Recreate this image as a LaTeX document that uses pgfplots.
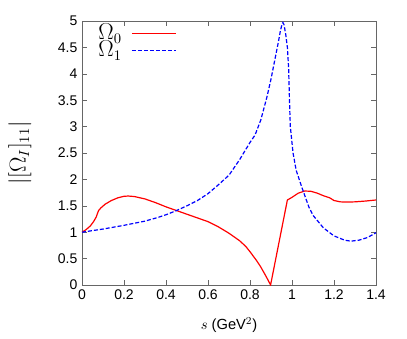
\documentclass[border=0pt]{standalone}
\usepackage{fontspec}
\setmainfont{Liberation Sans}
\usepackage{pgfplots}
\pgfplotsset{compat=1.18}
\usetikzlibrary{calc}

\pgfplotstableread{
s v
0     1.00
0.02  1.05
0.04  1.12
0.055 1.20
0.068 1.29
0.075 1.37
0.079 1.41
0.09  1.46
0.11  1.53
0.14  1.60
0.17  1.65
0.20  1.68
0.22  1.685
0.25  1.675
0.30  1.63
0.35  1.56
0.40  1.48
0.45  1.41
0.50  1.34
0.55  1.27
0.60  1.20
0.65  1.10
0.70  0.98
0.75  0.84
0.78  0.73
0.80  0.63
0.83  0.47
0.85  0.35
0.87  0.21
0.885 0.10
0.898 0.00
0.978 1.61
1.00  1.66
1.03  1.74
1.06  1.78
1.09  1.775
1.12  1.74
1.15  1.69
1.18  1.65
1.20  1.60
1.23  1.575
1.26  1.57
1.30  1.575
1.35  1.59
1.40  1.61
}\omegazero

\pgfplotstableread{
s v
0     1.00
0.10  1.06
0.20  1.13
0.30  1.21
0.362 1.28
0.40  1.33
0.45  1.41
0.50  1.50
0.55  1.60
0.60  1.73
0.65  1.90
0.70  2.08
0.75  2.37
0.80  2.70
0.824 2.84
0.851 3.12
0.88  3.55
0.90  3.90
0.92  4.30
0.935 4.60
0.945 4.82
0.952 4.93
0.957 4.97
0.962 4.93
0.970 4.75
0.978 4.50
0.984 4.10
0.988 3.50
0.992 3.00
1.005 2.50
1.02  2.17
1.046 1.86
1.08  1.48
1.10  1.32
1.15  1.08
1.20  0.93
1.25  0.85
1.28  0.83
1.32  0.85
1.36  0.90
1.40  0.99
}\omegaone

\begin{document}
\begin{tikzpicture}
  \begin{axis}[
    scale only axis,
    width=220.5pt,
    height=198pt,
    xmin=0, xmax=1.4,
    ymin=0, ymax=5,
    xtick={0,0.2,0.4,0.6,0.8,1,1.2,1.4},
    ytick={0,0.5,1,1.5,2,2.5,3,3.5,4,4.5,5},
    tick align=inside,
    tick pos=both,
    major tick length=3.5pt,
    axis line style={gray!80!black},
    tick style={gray!80!black},
    /pgf/number format/assume math mode=true,
    ticklabel style={font=\fontsize{10.5}{12}\selectfont},
    xlabel={$s$ (GeV$^2$)},
    ylabel={$|[\Omega_I]_{11}|$},
    xlabel style={font=\fontsize{11}{13}\selectfont,
      at={(axis description cs:0.5,-0.152)}, anchor=center},
    ylabel style={font=\fontsize{16}{18}\selectfont,
      at={(axis description cs:-0.211,0.5)}, anchor=center},
  ]
    \addplot[color=red, line width=0.9pt] table[x=s, y=v] {\omegazero};
    \addplot[color=blue, line width=0.9pt, dash pattern=on 3pt off 1.5pt]
      table[x=s, y=v] {\omegaone};
    % key, gnuplot style: sample lines first, then the texts to their left
    \draw[red, line width=0.9pt]
      (axis description cs:0.170,0.953) -- (axis description cs:0.320,0.953);
    \draw[blue, line width=0.9pt, dash pattern=on 3pt off 1.5pt]
      (axis description cs:0.170,0.887) -- (axis description cs:0.320,0.887);
    \node[anchor=east, inner sep=0pt, font=\fontsize{16}{18}\selectfont]
      at (axis description cs:0.136,0.953) {$\Omega_0$};
    \node[anchor=east, inner sep=0pt, font=\fontsize{16}{18}\selectfont]
      at (axis description cs:0.136,0.887) {$\Omega_1$};
  \end{axis}
  \pgfresetboundingbox
  \useasboundingbox ($(current axis.south west)+(-61.5pt,-40.5pt)$)
    rectangle ($(current axis.north east)+(23.25pt,15.75pt)$);
\end{tikzpicture}
\end{document}
